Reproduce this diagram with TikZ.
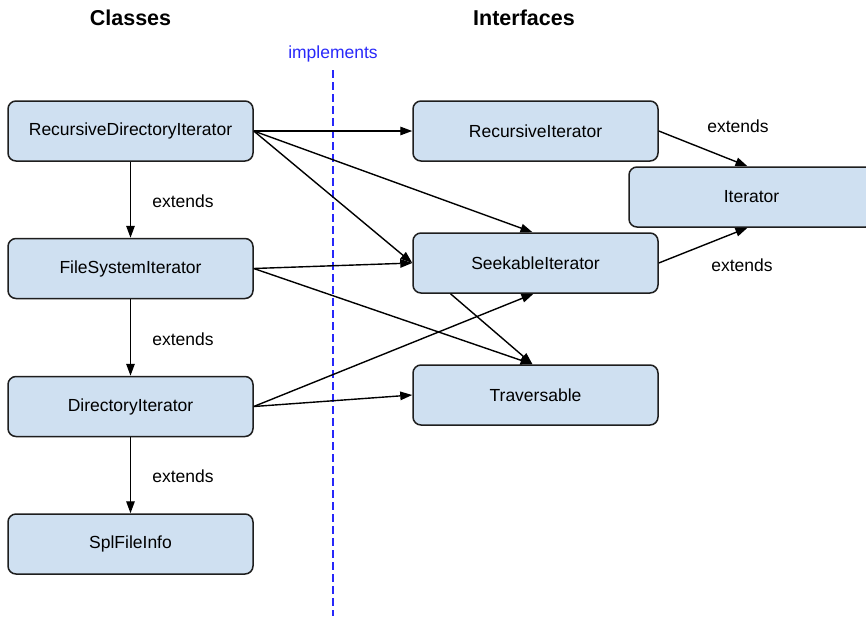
\documentclass[tikz,border=0pt]{standalone}
\usepackage{fontspec}
\setmainfont{Liberation Sans}
\usetikzlibrary{arrows.meta}

\definecolor{boxfill}{RGB}{207,224,241}
\definecolor{boxline}{RGB}{30,30,30}
\definecolor{sepblue}{RGB}{40,40,250}

\tikzset{
  classbox/.style={draw=boxline, fill=boxfill, line width=1.5pt,
    rounded corners=8pt, minimum width=245pt, minimum height=60pt,
    inner sep=0pt, font=\fontsize{17.5}{19}\selectfont},
  rel/.style={draw=black, line width=1.4pt,
    -{Triangle[length=12pt,width=8.5pt]}},
  lbl/.style={font=\fontsize{17.5}{19}\selectfont, inner sep=0pt},
  heading/.style={font=\fontsize{21.5}{24}\selectfont\bfseries, inner sep=0pt},
}

\begin{document}
\begin{tikzpicture}[x=1pt, y=-1pt]
  \useasboundingbox (0,0) rectangle (866,616);
  \fill[white] (0,0) rectangle (866,616);

  % column headings
  \node[heading] (hclasses) at (130.5,18) {Classes};
  \node[heading] (hifaces)  at (524,18) {Interfaces};

  % separator between classes and interfaces
  \node[lbl, text=sepblue] (impl) at (333,54) {implements};
  \coordinate (septop) at (333,70);
  \coordinate (sepbot) at (333,616);
  \draw[sepblue, line width=2pt, dash pattern=on 8pt off 4pt] (septop) -- (sepbot);

  % classes
  \node[classbox] (rdi) at (130.5,131)   {RecursiveDirectoryIterator};
  \node[classbox] (fsi) at (130.5,268.5) {FileSystemIterator};
  \node[classbox] (di)  at (130.5,406.5) {DirectoryIterator};
  \node[classbox] (sfi) at (130.5,544)   {SplFileInfo};

  % interfaces
  \node[classbox] (ri)  at (535.5,131) {RecursiveIterator};
  \node[classbox] (it)  at (751.5,197) {Iterator};
  \node[classbox] (si)  at (535.5,263) {SeekableIterator};
  \node[classbox] (tr)  at (535.5,395) {Traversable};

  % inheritance between classes
  \draw[rel] (rdi.south) -- (fsi.north);
  \draw[rel] (fsi.south) -- (di.north);
  \draw[rel] (di.south)  -- (sfi.north);
  \node[lbl] (e1) at (183,201) {extends};
  \node[lbl] (e2) at (183,339) {extends};
  \node[lbl] (e3) at (183,476) {extends};

  % implemented interfaces
  \draw[rel] (rdi.east) -- (ri.west);
  \draw[rel] (rdi.east) -- ([xshift=-3pt]si.north);
  \draw[rel] (rdi.east) -- (si.west);
  \draw[rel] (fsi.east) -- (si.west);
  \draw[rel] (fsi.east) -- ([xshift=-3pt]tr.north);
  \draw[rel] (di.east)  -- ([xshift=-2pt]si.south);
  \draw[rel] (di.east)  -- (tr.west);

  % interface inheritance
  \draw[rel] ([xshift=-85pt]si.south) -- ([xshift=-3pt]tr.north);
  \draw[rel] (ri.east) -- ([xshift=-4pt]it.north);
  \draw[rel] (si.east) -- ([xshift=-4pt]it.south);
  \node[lbl] (e4) at (738,126) {extends};
  \node[lbl] (e5) at (742,265) {extends};
\end{tikzpicture}
\end{document}
